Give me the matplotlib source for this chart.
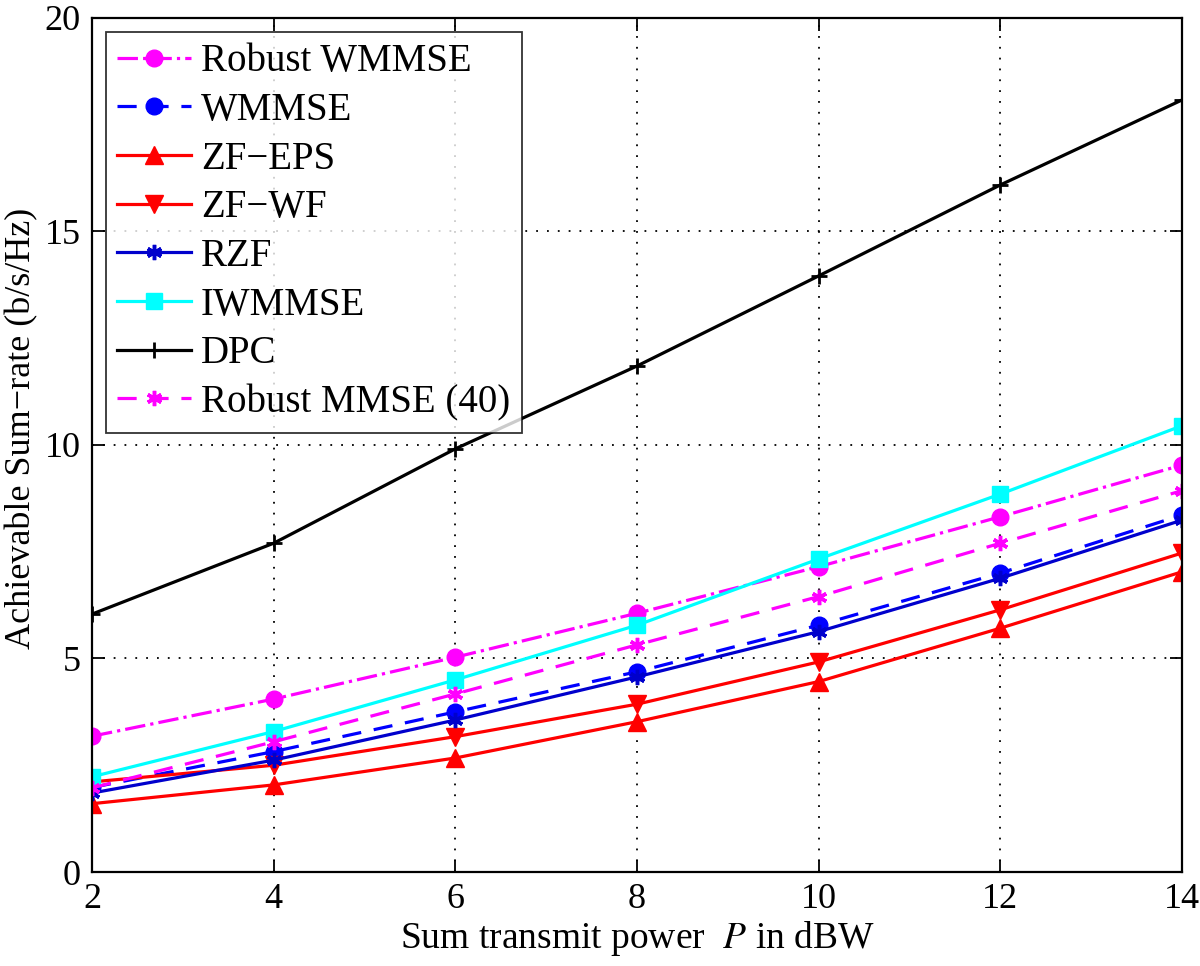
import matplotlib
matplotlib.use("Agg")
from matplotlib import pyplot as plt

# sum transmit power (dBW)
power = [2, 4, 6, 8, 10, 12, 14]

robust_wmmse = [3.18, 4.05, 5.03, 6.06, 7.15, 8.32, 9.53]
wmmse = [1.98, 2.82, 3.75, 4.69, 5.78, 7.00, 8.36]
zf_eps = [1.60, 2.04, 2.67, 3.52, 4.46, 5.71, 7.03]
zf_wf = [2.11, 2.50, 3.17, 3.93, 4.92, 6.14, 7.47]
rzf = [1.85, 2.62, 3.56, 4.57, 5.63, 6.88, 8.24]
iwmmse = [2.23, 3.29, 4.50, 5.78, 7.33, 8.85, 10.45]
dpc = [6.04, 7.70, 9.91, 11.85, 13.96, 16.09, 18.08]
robust_mmse = [1.97, 3.05, 4.17, 5.32, 6.45, 7.70, 8.93]

plt.rcParams['font.family'] = ['Liberation Serif', 'DejaVu Serif']
plt.rcParams['mathtext.fontset'] = 'stix'

fig = plt.figure(figsize=(12, 9.66), dpi=100)
ax = fig.add_axes([0.0767, 0.0973, 0.9083, 0.8841])

lw = 2.3
ast = (6, 2, 0)
ax.plot(power, robust_wmmse, '-.', color='magenta', marker='o', ms=12, lw=lw, label='Robust WMMSE')
ax.plot(power, wmmse, '--', color='blue', marker='o', ms=12, lw=lw, dashes=(6, 4), label='WMMSE')
ax.plot(power, zf_eps, '-', color='red', marker='^', ms=13, lw=lw, label='ZF\u2212EPS')
ax.plot(power, zf_wf, '-', color='red', marker='v', ms=13, lw=lw, label='ZF\u2212WF')
ax.plot(power, rzf, '-', color='#0000cc', marker=ast, ms=11, mew=2.5, lw=lw, label='RZF')
ax.plot(power, iwmmse, '-', color='cyan', marker='s', ms=11, lw=lw, label='IWMMSE')
ax.plot(power, dpc, '-', color='black', marker='+', ms=11, mew=2, lw=lw, label='DPC')
ax.plot(power, robust_mmse, '--', color='magenta', marker=ast, ms=11, mew=2.5, lw=lw, dashes=(6, 4),
        label='Robust MMSE (40)')

ax.set_xlim(2, 14)
ax.set_ylim(0, 20)
ax.set_xticks(power)
ax.set_yticks([0, 5, 10, 15, 20])
ax.grid(True, linestyle=(0, (1, 5)), color='black', linewidth=1.3)
ax.tick_params(direction='in', top=True, right=True, labelsize=26, length=9, width=1.3, pad=8)
for s in ax.spines.values():
    s.set_linewidth(1.6)

ax.set_xlabel('Sum transmit power  $P$ in dBW', fontsize=27, labelpad=2)
ax.set_ylabel('Achievable Sum\u2212rate (b/s/Hz)', fontsize=26)
ax.yaxis.set_label_coords(-0.049, 0.52)

leg = ax.legend(loc='upper left', fontsize=28, frameon=True, fancybox=False, edgecolor='black',
                borderaxespad=0.35, handlelength=1.9, labelspacing=0.3, borderpad=0.3,
                handletextpad=0.25)
leg.get_frame().set_linewidth(1.3)

fig.savefig('out.png', dpi=100)
